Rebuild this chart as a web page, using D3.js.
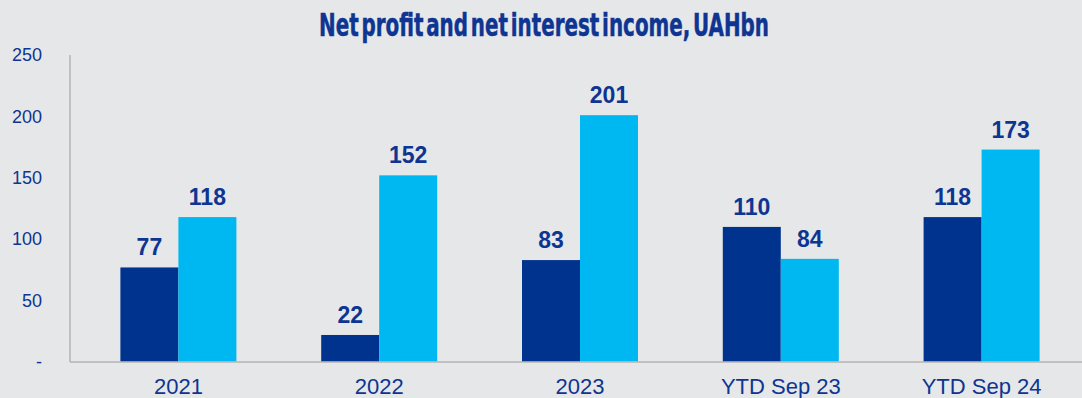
<!DOCTYPE html>
<html>
<head>
<meta charset="utf-8">
<script src="https://cdn.jsdelivr.net/npm/d3@7"></script>
<style>
  html, body { margin: 0; padding: 0; background: #e6e7e9; }
  svg { display: block; }
</style>
</head>
<body>
<svg id="chart" width="1082" height="398"></svg>
<script>
// Net profit vs net interest income, UAH bn
const categories = ["2021", "2022", "2023", "YTD Sep 23", "YTD Sep 24"];
const netProfit = [77, 22, 83, 110, 118];
const netInterestIncome = [118, 152, 201, 84, 173];
const yTicks = [0, 50, 100, 150, 200, 250];
const seriesNames = ["Net profit", "Net interest income"];

const W = 1082, H = 398;
const svg = d3.select("#chart");

const textColor = "#0d3591";
const colors = ["#00338d", "#00b8f1"];

const y = d3.scaleLinear().domain([0, 250]).range([362, 55]);
const x = d3.scaleBand().domain(categories).range([78, 1082]).paddingInner(0).paddingOuter(0);
const barW = 58;
const xs = d3.scaleBand().domain(seriesNames).range([x.bandwidth() / 2 - barW, x.bandwidth() / 2 + barW]);

// title, condensed heavy face squeezed to a fixed width
svg.append("text")
  .attr("x", 544).attr("y", 36)
  .attr("text-anchor", "middle")
  .attr("font-family", "'DejaVu Sans Condensed', 'Liberation Sans Narrow', sans-serif")
  .attr("font-weight", "bold")
  .attr("font-size", 32)
  .attr("word-spacing", -6)
  .attr("fill", textColor)
  .attr("stroke", textColor)
  .attr("stroke-width", 0.5)
  .attr("textLength", 450)
  .attr("lengthAdjust", "spacingAndGlyphs")
  .text("Net profit and net interest income, UAHbn");

// y axis
const yAxis = d3.axisLeft(y).tickValues(yTicks).tickSize(0).tickPadding(0)
  .tickFormat(d => d === 0 ? "-" : d);
const gy = svg.append("g").attr("transform", "translate(42,0)").call(yAxis);
gy.select(".domain").remove();
gy.selectAll("text")
  .attr("font-family", "Arial, 'Liberation Sans', sans-serif")
  .attr("font-size", 18)
  .attr("fill", textColor);

// axis lines
svg.append("line").attr("x1", 70).attr("x2", 70).attr("y1", 55).attr("y2", y(0))
  .attr("stroke", "#b5b5b5").attr("stroke-width", 1.5);
svg.append("line").attr("x1", 70).attr("x2", W).attr("y1", y(0)).attr("y2", y(0))
  .attr("stroke", "#b5b5b5").attr("stroke-width", 1.5);

// bars
const rows = categories.map((c, i) => ({
  cat: c,
  vals: [
    { key: seriesNames[0], v: netProfit[i], c: colors[0] },
    { key: seriesNames[1], v: netInterestIncome[i], c: colors[1] }
  ]
}));

const groups = svg.selectAll("g.grp").data(rows).join("g")
  .attr("class", "grp")
  .attr("transform", d => `translate(${x(d.cat)},0)`);

groups.selectAll("rect").data(d => d.vals).join("rect")
  .attr("x", d => xs(d.key))
  .attr("width", xs.bandwidth())
  .attr("y", d => y(d.v))
  .attr("height", d => y(0) - y(d.v) - 0.75)
  .attr("fill", d => d.c);

groups.selectAll("text.val").data(d => d.vals).join("text")
  .attr("class", "val")
  .attr("x", d => xs(d.key) + xs.bandwidth() / 2)
  .attr("y", d => y(d.v) - 12)
  .attr("text-anchor", "middle")
  .attr("font-family", "Arial, 'Liberation Sans', sans-serif")
  .attr("font-weight", "bold")
  .attr("font-size", 23)
  .attr("fill", textColor)
  .text(d => d.v);

// category labels
svg.selectAll("text.cat").data(categories).join("text")
  .attr("class", "cat")
  .attr("x", d => x(d) + x.bandwidth() / 2)
  .attr("y", 394)
  .attr("text-anchor", "middle")
  .attr("font-family", "Arial, 'Liberation Sans', sans-serif")
  .attr("font-size", 22)
  .attr("fill", textColor)
  .text(d => d);
</script>
</body>
</html>
